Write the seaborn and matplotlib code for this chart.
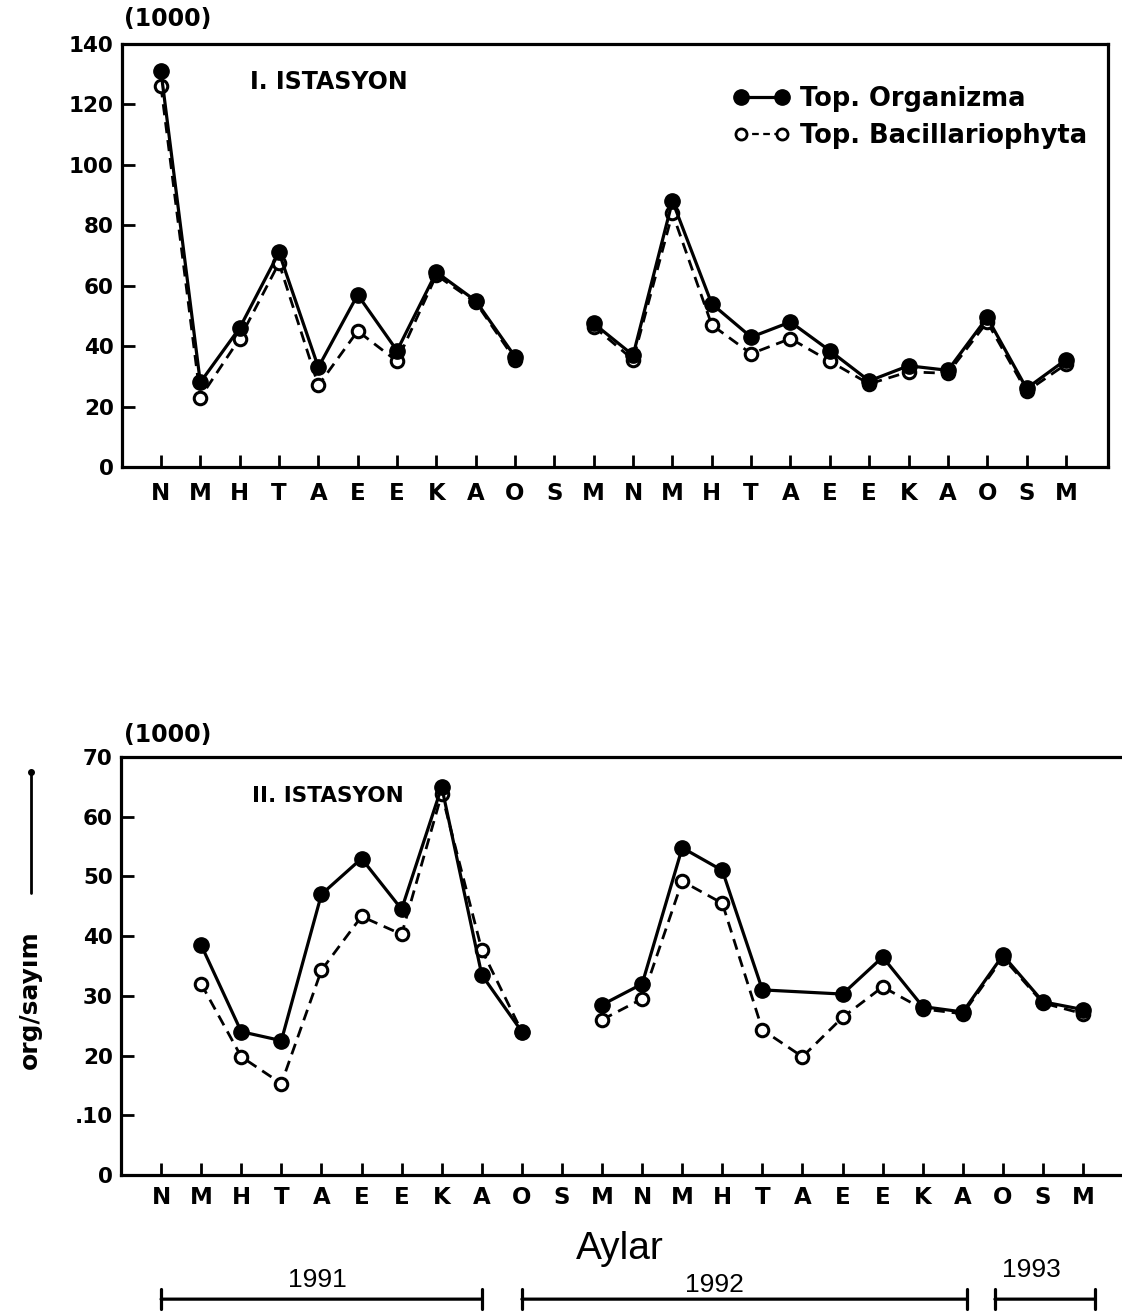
import numpy as np
import pandas as pd
import matplotlib
matplotlib.use("Agg")
import matplotlib.pyplot as plt
import seaborn as sns
from matplotlib.lines import Line2D
from matplotlib.transforms import blended_transform_factory

nan = np.nan

# ---------------- data ----------------
months = ['N', 'M', 'H', 'T', 'A', 'E', 'E', 'K', 'A', 'O', 'S', 'M',
          'N', 'M', 'H', 'T', 'A', 'E', 'E', 'K', 'A', 'O', 'S', 'M']
segment = [0] * 10 + [1] * 14          # sampling gap at the 'S' month

series_names = ['Top. Organizma', 'Top. Bacillariophyta']

st1_org = [131, 28, 46, 71, 33, 57, 38.5, 64.5, 55, 36.5, nan, 47.5,
           37, 88, 54, 43, 48, 38.5, 28.5, 33.5, 32, 49.5, 26, 35.5]
st1_bac = [126, 23, 42.5, 67.5, 27, 45, 35, 63.5, 54.5, 35.5, nan, 46.5,
           35.5, 84, 47, 37.5, 42.5, 35, 27.5, 31.5, 31, 48, 25, 34]

st2_org = [nan, 38.5, 24, 22.5, 47, 53, 44.5, 65, 33.5, 24, nan, 28.5,
           32, 54.8, 51, 31, nan, 30.3, 36.5, 28.2, 27.3, 36.8, 29, 27.7]
st2_bac = [nan, 32, 19.8, 15.3, 34.3, 43.3, 40.3, 63.8, 37.7, 24, nan, 26,
           29.5, 49.2, 45.5, 24.3, 19.8, 26.4, 31.5, 27.8, 27, 36.4, 28.8, 27]

st1_yticks = [0, 20, 40, 60, 80, 100, 120, 140]
st2_yticks = [0, 10, 20, 30, 40, 50, 60, 70]
st2_ytick_labels = ['0', '.10', '20', '30', '40', '50', '60', '70']

station_titles = ['I. ISTASYON', 'II. ISTASYON']
unit_label = '(1000)'
y_label = 'org/sayım'
x_label = 'Aylar'
years = ['1991', '1992', '1993']
year_spans = [(0, 8), (9, 20.1), (20.8, 23.3)]
year_text_x = [3.9, 13.8, 21.7]

# ---------------- style ----------------
sns.set_style("ticks")
plt.rcParams['font.family'] = ['DejaVu Sans']
plt.rcParams['font.weight'] = 'bold'
for k in ['text.color', 'axes.labelcolor', 'xtick.color', 'ytick.color',
          'axes.edgecolor']:
    plt.rcParams[k] = 'black'

W, H = 1122, 1316
fig = plt.figure(figsize=(W / 100, H / 100), dpi=100)
fig.patch.set_facecolor('white')

ax1 = fig.add_axes([122 / W, 1 - 467 / H, (1108 - 122) / W, (467 - 44) / H])
ax2 = fig.add_axes([121 / W, 1 - 1175 / H, (1122 - 121) / W, (1175 - 757) / H])

dash = (0, (4, 2.5))
XT_SIZE = 16.5
YT_SIZE = 15.5


def draw(ax, org, bac):
    df = pd.DataFrame({'x': np.arange(len(months)), 'org': org,
                       'bac': bac, 'seg': segment})
    sns.lineplot(data=df, x='x', y='bac', units='seg', estimator=None,
                 color='black', linestyle=dash, linewidth=2.0,
                 marker='o', markersize=9, markerfacecolor='white',
                 markeredgecolor='black', markeredgewidth=2.2,
                 ax=ax, zorder=3)
    sns.lineplot(data=df, x='x', y='org', units='seg', estimator=None,
                 color='black', linewidth=2.3,
                 marker='o', markersize=11, markerfacecolor='black',
                 markeredgecolor='black', markeredgewidth=1,
                 ax=ax, zorder=4)
    ax.set_xlabel('')
    ax.set_ylabel('')
    ax.set_xticks(np.arange(len(months)))
    ax.set_xticklabels(months)
    ax.tick_params(axis='both', direction='in', length=9, width=2,
                   color='black', labelcolor='black')
    ax.tick_params(axis='y', labelsize=YT_SIZE, pad=6)
    for sp in ax.spines.values():
        sp.set_linewidth(2.3)
        sp.set_color('black')


# ---- station I ----
draw(ax1, st1_org, st1_bac)
ax1.set_xlim(-0.99, 24.07)
ax1.set_ylim(0, 140)
ax1.set_yticks(st1_yticks)
ax1.tick_params(axis='x', labelsize=XT_SIZE, pad=11)
for lab in ax1.get_xticklabels() + ax1.get_yticklabels():
    lab.set_fontweight('bold')
ax1.text(0.002, 1.06, unit_label, transform=ax1.transAxes, fontsize=17,
         fontweight='bold', va='center', ha='left')
ax1.text(0.13, 0.91, station_titles[0], transform=ax1.transAxes,
         fontsize=17, fontweight='bold', va='center', ha='left')

handles = [Line2D([], [], color='black', lw=2.3, marker='o', ms=11,
                  mfc='black', mec='black'),
           Line2D([], [], color='black', lw=1.6, ls=(0, (3, 2)), marker='o',
                  ms=8, mfc='white', mec='black', mew=2)]
ax1.legend(handles, series_names, loc='upper left',
           bbox_to_anchor=(0.607, 0.93), frameon=False, numpoints=2,
           handlelength=2.2, handletextpad=0.4, borderpad=0,
           labelspacing=0.42, prop={'size': 18.5, 'weight': 'bold'})

# ---- station II ----
draw(ax2, st2_org, st2_bac)
ax2.set_xlim(-1.0, 23.97)
ax2.set_ylim(0, 70)
ax2.set_yticks(st2_yticks)
ax2.set_yticklabels(st2_ytick_labels)
ax2.tick_params(axis='x', labelsize=XT_SIZE, pad=8)
for lab in ax2.get_xticklabels() + ax2.get_yticklabels():
    lab.set_fontweight('bold')
ax2.spines['right'].set_visible(False)
ax2.text(0.003, 1.053, unit_label, transform=ax2.transAxes, fontsize=17,
         fontweight='bold', va='center', ha='left')
ax2.text(0.131, 0.907, station_titles[1], transform=ax2.transAxes,
         fontsize=15.5, fontweight='bold', va='center', ha='left')

trans = blended_transform_factory(ax2.transData, ax2.transAxes)
ax2.text(11.45, -0.177, x_label, transform=trans, fontsize=28,
         fontweight='normal', ha='center', va='center', clip_on=False,
         family=['Liberation Sans', 'DejaVu Sans'])

bar_y = -0.297
text_y = [-0.252, -0.262, -0.228]
for yr, (a, b), tx, ty in zip(years, year_spans, year_text_x, text_y):
    ax2.annotate('', xy=(a, bar_y), xytext=(b, bar_y), xycoords=trans,
                 textcoords=trans,
                 arrowprops=dict(arrowstyle='|-|,widthA=0.7,widthB=0.7',
                                 lw=2.3, color='black',
                                 shrinkA=0, shrinkB=0),
                 annotation_clip=False)
    ax2.text(tx, ty, yr, transform=trans, fontsize=19,
             fontweight='normal', ha='center', va='center', clip_on=False,
             family=['Liberation Sans', 'DejaVu Sans'])

# rotated y label with arrow line
fig.text(30 / W, 1 - 1000 / H, y_label, rotation=90, fontsize=18,
         fontweight='bold', ha='center', va='center')
fig.add_artist(Line2D([31 / W, 31 / W], [1 - 893 / H, 1 - 773 / H],
                      transform=fig.transFigure, color='black', lw=2))
fig.add_artist(Line2D([31 / W], [1 - 772 / H], transform=fig.transFigure,
                      color='black', marker='o', ms=4))

fig.savefig('out.png', dpi=100, facecolor='white')
